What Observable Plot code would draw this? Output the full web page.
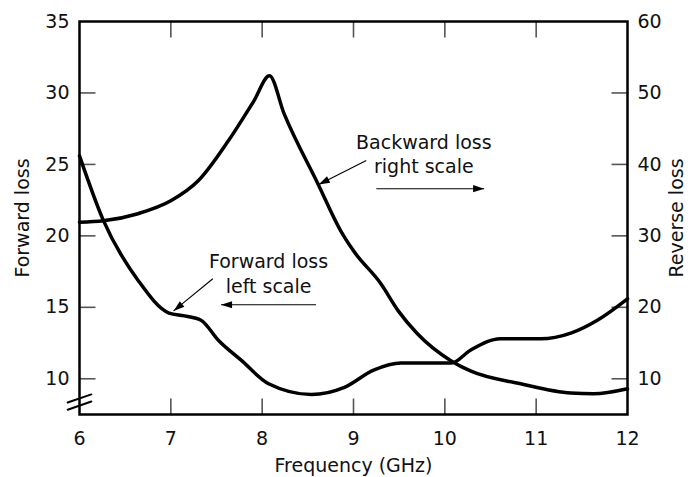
<!DOCTYPE html>
<html><head><meta charset="utf-8">
<script src="https://cdn.jsdelivr.net/npm/d3@7"></script>
<script src="https://cdn.jsdelivr.net/npm/@observablehq/plot@0.6"></script>
<style>body{margin:0;background:#fff}</style>
</head><body><div id="chart"></div>
<script>
// Forward loss (left scale)
const forwardFreq = [6.0, 6.26, 6.64, 6.98, 7.15, 7.33, 7.52, 7.77, 8.07, 8.54, 8.90, 9.22, 9.52, 10.07, 10.28, 10.61, 11.05, 11.38, 11.67, 12.0];
const forwardLoss = [25.6, 21.1, 16.9, 14.6, 14.4, 14.1, 12.7, 11.3, 9.65, 8.9, 9.4, 10.6, 11.1, 11.1, 12.0, 12.8, 12.8, 13.2, 14.1, 15.6];
// Backward loss (right scale)
const backwardFreq = [6.0, 6.26, 6.64, 7.0, 7.3, 7.63, 7.91, 8.08, 8.24, 8.61, 8.86, 9.0, 9.3, 9.49, 9.70, 10.07, 10.28, 10.83, 11.38, 11.63, 12.0];
const backwardLoss = [31.9, 32.1, 33.1, 34.9, 37.7, 43.3, 48.9, 52.4, 47.1, 37.3, 30.7, 27.9, 23.3, 19.5, 16.3, 12.5, 11.1, 9.3, 8.0, 7.9, 8.6];

const xTicks = [6, 7, 8, 9, 10, 11, 12];
const leftTicks = [10, 15, 20, 25, 30, 35];
const rightTicks = [10, 20, 30, 40, 50, 60];
const innerXTicks = [7, 8, 9, 10, 11];
const innerLeftTicks = [10, 15, 20, 25, 30];
const innerRightTicks = [10, 20, 30, 40, 50];
const xDomain = [6, 12];
const leftDomain = [7.5, 35];
const rightDomain = [5, 60];

// annotation labels (frequency, left-scale value)
const labelText = ["Forward loss\nleft scale", "Backward loss\nright scale"];
const labelFreq = [8.07, 9.77];
const labelVal = [17.42, 25.76];
// annotation arrows (from -> to, in frequency / left-scale value)
const arrowX1 = [7.46, 8.59, 9.14, 9.25];
const arrowY1 = [17.0, 15.18, 25.27, 23.3];
const arrowX2 = [7.03, 7.55, 8.62, 10.43];
const arrowY2 = [14.75, 15.18, 23.6, 23.3];
// axis-break marks on the left axis (left-scale values)
const breakVals = [8.62, 8.12];

const W = 688, H = 477, mL = 79, mR = 61, mT = 21, mB = 63;
const plotW = W - mL - mR, plotH = H - mT - mB;
const pxX = plotW / (xDomain[1] - xDomain[0]);
const pxY = plotH / (leftDomain[1] - leftDomain[0]);
const tickLen = 16;
const tickDX = tickLen / pxX, tickDY = tickLen / pxY;

// map right scale onto left scale
const toLeft = r => leftDomain[0] + (r - rightDomain[0]) * (leftDomain[1] - leftDomain[0]) / (rightDomain[1] - rightDomain[0]);
const toRight = l => rightDomain[0] + (l - leftDomain[0]) * (rightDomain[1] - rightDomain[0]) / (leftDomain[1] - leftDomain[0]);

const forward = forwardFreq.map((f, i) => ({f, v: forwardLoss[i]}));
const backward = backwardFreq.map((f, i) => ({f, v: toLeft(backwardLoss[i])}));
const labels = labelText.map((t, i) => ({t, f: labelFreq[i], v: labelVal[i]}));
const arrows = arrowX1.map((x1, i) => ({
  x1, y1: arrowY1[i], x2: arrowX2[i], y2: arrowY2[i],
  a: Math.atan2((arrowX2[i] - x1) * pxX, (arrowY2[i] - arrowY1[i]) * pxY) * 180 / Math.PI
}));
// inner tick segments built from the tick values
const tickSegs = [
  ...innerLeftTicks.map(v => ({x1: xDomain[0], x2: xDomain[0] + tickDX, y1: v, y2: v})),
  ...innerRightTicks.map(toLeft).map(v => ({x1: xDomain[1] - tickDX, x2: xDomain[1], y1: v, y2: v})),
  ...innerXTicks.map(f => ({x1: f, x2: f, y1: leftDomain[0], y2: leftDomain[0] + tickDY})),
  ...innerXTicks.map(f => ({x1: f, x2: f, y1: leftDomain[1] - tickDY, y2: leftDomain[1]}))
];

const seg = {draw(ctx, l) { ctx.moveTo(0, 0); ctx.lineTo(0, -l); }};

const chart = Plot.plot({
  width: W, height: H, marginLeft: mL, marginRight: mR, marginTop: mT, marginBottom: mB,
  style: {fontFamily: "DejaVu Sans", fontSize: "19px", color: "#111", background: "#fff"},
  x: {domain: xDomain},
  y: {domain: leftDomain},
  marks: [
    Plot.axisX({ticks: xTicks, tickFormat: d => String(d), tickSize: 0, tickPadding: 17, label: null, fontSize: 19}),
    Plot.axisY({anchor: "left", ticks: leftTicks, tickFormat: d => String(d), tickSize: 0, tickPadding: 10, label: null, fontSize: 19}),
    Plot.axisY({anchor: "right", ticks: rightTicks.map(toLeft), tickFormat: d => String(Math.round(toRight(d))), tickSize: 0, tickPadding: 10, label: null, fontSize: 19}),
    Plot.link(tickSegs, {x1: "x1", y1: "y1", x2: "x2", y2: "y2", stroke: "#555", strokeWidth: 1.6}),
    Plot.vector(breakVals, {y: d => d, frameAnchor: "left", rotate: 71, length: 25, anchor: "middle", shape: seg, stroke: "#000", strokeWidth: 2}),
    Plot.line(forward, {x: "f", y: "v", curve: "monotone-x", stroke: "#000", strokeWidth: 3.5}),
    Plot.line(backward, {x: "f", y: "v", curve: "monotone-x", stroke: "#000", strokeWidth: 3.5}),
    Plot.link(arrows, {x1: "x1", y1: "y1", x2: "x2", y2: "y2", stroke: "#000", strokeWidth: 1.1}),
    Plot.vector(arrows, {x: "x2", y: "y2", rotate: "a", length: 11, r: 3.6, anchor: "end", shape: "spike", fill: "#000", stroke: "none"}),
    Plot.text(labels, {x: "f", y: "v", text: "t", fontSize: 19, lineHeight: 1.27, fill: "#111"}),
    Plot.text(["Forward loss"], {frameAnchor: "left", dx: -57, rotate: -90, textAnchor: "middle", lineAnchor: "middle", fontSize: 19, fill: "#111"}),
    Plot.text(["Reverse loss"], {frameAnchor: "right", dx: 49, rotate: -90, textAnchor: "middle", lineAnchor: "middle", fontSize: 19, fill: "#111"}),
    Plot.text(["Frequency (GHz)"], {frameAnchor: "bottom", dy: 51, textAnchor: "middle", lineAnchor: "middle", fontSize: 19, fill: "#111"}),
    Plot.frame({stroke: "#000", strokeWidth: 2.5})
  ]
});
document.getElementById("chart").appendChild(chart);
</script>
</body></html>
